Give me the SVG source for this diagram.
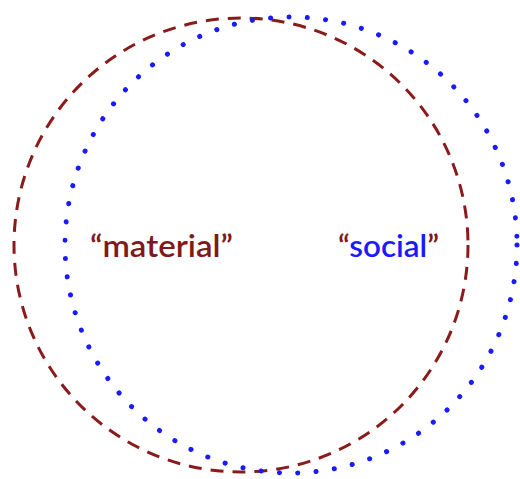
<svg xmlns="http://www.w3.org/2000/svg" width="520" height="479" viewBox="0 0 520 479">
<style>
.mat{fill:none;stroke:#8b1a1a;stroke-width:3;stroke-dasharray:13 9}
.soc{fill:none;stroke:#1a1aff;stroke-width:5;stroke-linecap:round;stroke-dasharray:0.1 18.3}
.t{font-family:Lato,"Open Sans","Liberation Sans",sans-serif;font-size:31px;font-weight:600}
.red{fill:#7f1a1a}
.blue{fill:#1a1aff}
</style>
<rect width="520" height="479" fill="#fff"/>
<g id="connectors"/>
<g id="material-circle"><ellipse class="mat" cx="241" cy="245" rx="227" ry="227"/></g>
<g id="social-circle"><ellipse class="soc" cx="291" cy="245" rx="226" ry="228"/></g>
<g id="material-label"><text class="t red" x="90" y="257" textLength="143" lengthAdjust="spacingAndGlyphs">“material”</text></g>
<g id="social-label"><text class="t red" x="338" y="257" textLength="101" lengthAdjust="spacingAndGlyphs">“<tspan class="blue">social</tspan>”</text></g>
</svg>
